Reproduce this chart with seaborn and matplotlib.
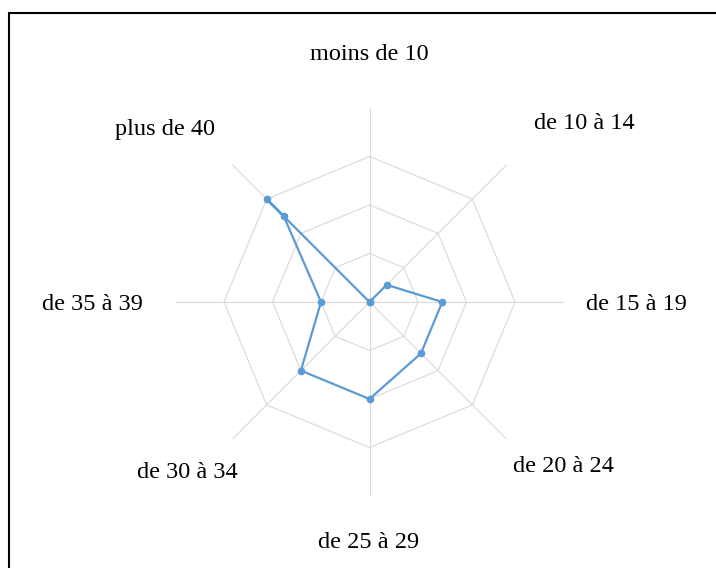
import numpy as np
import pandas as pd
import matplotlib
matplotlib.use("Agg")
import matplotlib.pyplot as plt
from matplotlib.lines import Line2D
import seaborn as sns

categories = ["moins de 10", "de 10 à 14", "de 15 à 19", "de 20 à 24",
              "de 25 à 29", "de 30 à 34", "de 35 à 39", "plus de 40"]
# series as drawn in the source: last category appears twice
series_cats = ["moins de 10", "de 10 à 14", "de 15 à 19", "de 20 à 24",
               "de 25 à 29", "de 30 à 34", "de 35 à 39", "plus de 40", "plus de 40"]
series_vals = [0, 1, 3, 3, 4, 4, 2, 5, 6]
ring_vals = [2, 4, 6]
axis_max = 8

sns.set_theme(style="white")
plt.rcParams['font.family'] = ['Liberation Serif', 'DejaVu Serif']

W, H = 716, 568
fig = plt.figure(figsize=(W / 100, H / 100), dpi=100)
cx, cy, R = 369.5, 302, 194
ax = fig.add_axes([(cx - R) / W, (H - cy - R) / H, 2 * R / W, 2 * R / H], projection='polar')
ax.set_theta_zero_location('N')
ax.set_theta_direction(-1)
ax.set_ylim(0, axis_max)
ax.grid(False)
ax.spines['polar'].set_visible(False)
ax.patch.set_alpha(0)

n = len(categories)
angles = np.arange(n) * 2 * np.pi / n
grid_col = '#D9D9D9'
for a in angles:
    ax.plot([a, a], [0, axis_max], color=grid_col, lw=0.8, zorder=1)
for rv in ring_vals:
    ax.plot(np.append(angles, angles[0]), [rv] * (n + 1), color=grid_col, lw=0.8, zorder=1)

idx = {c: i for i, c in enumerate(categories)}
th = [angles[idx[c]] for c in series_cats] + [angles[idx[series_cats[0]]]]
rv = series_vals + [series_vals[0]]
df = pd.DataFrame({"theta": th, "r": rv, "order": np.arange(len(rv))})
sns.lineplot(data=df, x="theta", y="r", sort=False, estimator=None, units=None,
             ax=ax, color='#5B9BD5', lw=1.6, marker='o', markersize=5.5,
             markeredgewidth=0, zorder=3)
ax.set_xlabel("")
ax.set_ylabel("")
ax.set_xticks([])
ax.set_yticks([])
ax.set_ylim(0, axis_max)

label_pos = [(369.5, 55), (584.5, 124), (636, 304), (563, 467),
             (369, 543), (187, 472), (92, 304), (165, 129)]
for c, (x, y) in zip(categories, label_pos):
    fig.text(x / W, 1 - y / H, c, ha='center', va='center', fontsize=17.5, color='black')

# outer frame (left and top edges visible)
fig.add_artist(Line2D([8.5 / W, 8.5 / W], [0, 1 - 12.5 / H], transform=fig.transFigure, color='black', lw=1.5))
fig.add_artist(Line2D([8.5 / W, 1], [1 - 12.5 / H, 1 - 12.5 / H], transform=fig.transFigure, color='black', lw=1.5))

fig.savefig("out.png", dpi=100)
